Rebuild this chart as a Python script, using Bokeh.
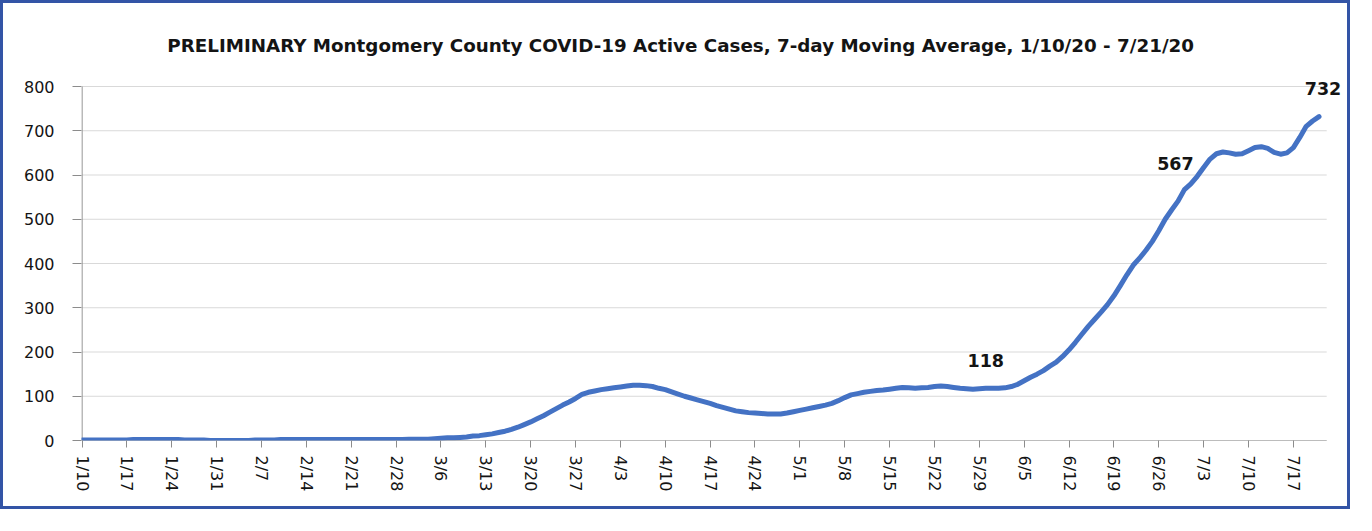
from bokeh.plotting import figure
from bokeh.models import FixedTicker, Range1d, ColumnDataSource
from bokeh.core.properties import value
from bokeh.embed import file_html
from bokeh.resources import INLINE

# ---- data (7-day moving average of active cases, 1/10/20 .. 7/21/20) ----
active_cases = [
    # 1/10 - 1/16
    1, 1, 1, 1, 1, 1, 1,
    # 1/17 - 1/23
    1, 2, 2, 2, 2, 2, 2,
    # 1/24 - 1/30
    2, 2, 1, 1, 1, 1, 0,
    # 1/31 - 2/6
    0, 0, 0, 0, 0, 0, 1,
    # 2/7 - 2/13
    1, 1, 1, 2, 2, 2, 2,
    # 2/14 - 2/20
    2, 2, 2, 2, 2, 2, 2,
    # 2/21 - 2/27
    2, 2, 2, 2, 2, 2, 2,
    # 2/28 - 3/5
    2, 2, 3, 3, 3, 3, 4,
    # 3/6 - 3/12
    5, 6, 6, 7, 8, 10, 11,
    # 3/13 - 3/19
    13, 15, 18, 21, 25, 30, 36,
    # 3/20 - 3/26
    42, 49, 56, 64, 72, 80, 87,
    # 3/27 - 4/2
    95, 104, 109, 112, 115, 117, 119,
    # 4/3 - 4/9
    121, 123, 125, 125, 124, 122, 118,
    # 4/10 - 4/16
    115, 110, 105, 100, 96, 92, 88,
    # 4/17 - 4/23
    84, 79, 75, 71, 67, 65, 63,
    # 4/24 - 4/30
    62, 61, 60, 60, 60, 62, 65,
    # 5/1 - 5/7
    68, 71, 74, 77, 80, 84, 90,
    # 5/8 - 5/14
    97, 103, 106, 109, 111, 113, 114,
    # 5/15 - 5/21
    116, 118, 120, 119, 118, 119, 120,
    # 5/22 - 5/28
    122, 123, 122, 120, 118, 117, 116,
    # 5/29 - 6/4
    117, 118, 118, 118, 119, 122, 127,
    # 6/5 - 6/11
    135, 143, 150, 158, 168, 177, 190,
    # 6/12 - 6/18
    205, 222, 240, 258, 274, 290, 307,
    # 6/19 - 6/25
    327, 350, 374, 396, 412, 430, 450,
    # 6/26 - 7/2
    474, 500, 521, 541, 567, 580, 597,
    # 7/3 - 7/9
    617, 636, 648, 652, 650, 647, 648,
    # 7/10 - 7/16
    655, 662, 664, 660, 651, 647, 650,
    # 7/17 - 7/21
    662, 685, 710, 722, 732,
]
day_index = list(range(len(active_cases)))

tick_days = [0, 7, 14, 21, 28, 35, 42, 49, 56, 63, 70, 77, 84, 91, 98, 105,
             112, 119, 126, 133, 140, 147, 154, 161, 168, 175, 182, 189]
tick_labels = ["1/10", "1/17", "1/24", "1/31", "2/7", "2/14", "2/21", "2/28",
               "3/6", "3/13", "3/20", "3/27", "4/3", "4/10", "4/17", "4/24",
               "5/1", "5/8", "5/15", "5/22", "5/29", "6/5", "6/12", "6/19",
               "6/26", "7/3", "7/10", "7/17"]
y_ticks = [0, 100, 200, 300, 400, 500, 600, 700, 800]

# annotated points: day index and label text
annot_days = [141, 172, 193]
annot_text = ["118", "567", "732"]

FONT = "DejaVu Sans"
TEXT_COLOR = "#141414"
AXIS_COLOR = "#8C8C8C"
GRID_COLOR = "#D9D9D9"
title = ("PRELIMINARY Montgomery County COVID-19 Active Cases, "
         "7-day Moving Average, 1/10/20 - 7/21/20")

# axis extents (plot area of the original chart)
X_END = 194.2
Y_TOP = y_ticks[-1]

# the drawing frame is larger than the plot area so that the title and the
# value labels (drawn as glyphs) are not clipped
p = figure(width=1350, height=509, output_backend="svg", toolbar_location=None,
           x_range=Range1d(-0.08, 197.6), y_range=Range1d(0, 942.4),
           min_border_left=78, min_border_right=5, min_border_top=20,
           min_border_bottom=72)
p.styles = {"border": "3px solid #3354A6"}

p.outline_line_color = None
p.background_fill_color = "white"
p.border_fill_color = "white"
p.xgrid.grid_line_color = None
p.ygrid.grid_line_color = None

# horizontal gridlines over the plot area only
p.segment(x0=[0] * len(y_ticks), y0=y_ticks, x1=[X_END] * len(y_ticks),
          y1=y_ticks, line_color=GRID_COLOR, line_width=1)
# axis lines
p.segment(x0=[0, 0], y0=[0, 0], x1=[X_END, 0], y1=[0, Y_TOP],
          line_color=AXIS_COLOR, line_width=1.2)

p.yaxis.ticker = FixedTicker(ticks=y_ticks)
p.yaxis.axis_line_color = None
p.yaxis.major_tick_line_color = AXIS_COLOR
p.yaxis.major_tick_out = 9
p.yaxis.major_tick_in = 0
p.yaxis.minor_tick_line_color = None
p.yaxis.major_label_standoff = 18
p.yaxis.major_label_text_font = FONT
p.yaxis.major_label_text_font_size = "16px"
p.yaxis.major_label_text_color = TEXT_COLOR

p.xaxis.ticker = FixedTicker(ticks=tick_days)
p.xaxis.major_label_overrides = {d: lbl for d, lbl in zip(tick_days, tick_labels)}
p.xaxis.major_label_orientation = "vertical"
p.xaxis.axis_line_color = None
p.xaxis.major_tick_line_color = AXIS_COLOR
p.xaxis.major_tick_out = 7
p.xaxis.major_tick_in = 0
p.xaxis.minor_tick_line_color = None
p.xaxis.major_label_standoff = 8
p.xaxis.major_label_text_font = FONT
p.xaxis.major_label_text_font_size = "16px"
p.xaxis.major_label_text_color = TEXT_COLOR

src = ColumnDataSource(dict(x=day_index, y=active_cases))
p.line("x", "y", source=src, line_color="#4472C4", line_width=5,
       line_join="round", line_cap="round")

# value labels above their points
label_dx = [0, -9, 4]
label_dy = [-28, -26, -28]
asrc = ColumnDataSource(dict(x=annot_days, y=[active_cases[d] for d in annot_days],
                             t=annot_text, dx=label_dx, dy=label_dy))
p.text("x", "y", text="t", source=asrc, x_offset="dx", y_offset="dy",
       text_align="center", text_baseline="middle",
       text_font=value(FONT), text_font_style="bold", text_font_size="17.5px",
       text_color=TEXT_COLOR)

# chart title, centred over the whole chart area
p.text(x=[93.4], y=[893.6], text=[title], text_align="center",
       text_baseline="middle", text_font=value(FONT),
       text_font_style="bold", text_font_size="18.3px", text_color=TEXT_COLOR)

open("out.html", "w").write(file_html(p, INLINE))
